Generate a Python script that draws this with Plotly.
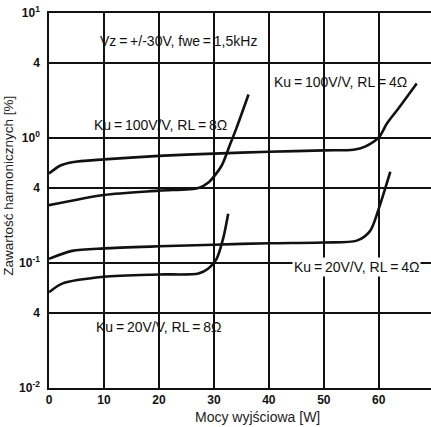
import plotly.graph_objects as go

# Ku=100V/V, RL=4 Ohm
x_a = [0, 2, 4.2, 10, 20, 30, 40, 50, 55.4, 57.5, 60, 61.5, 63.6, 66.9]
y_a = [0.52, 0.60, 0.64, 0.675, 0.72, 0.75, 0.776, 0.796, 0.806, 0.853, 1.01, 1.31, 1.73, 2.73]
# Ku=100V/V, RL=8 Ohm
x_b = [0, 10, 20, 27.2, 29.0, 31.4, 32.9, 34.1, 36.3]
y_b = [0.29, 0.35, 0.379, 0.398, 0.44, 0.60, 0.88, 1.2, 2.23]
# Ku=20V/V, RL=4 Ohm
x_c = [0, 4.2, 10, 20, 30, 40, 50, 56, 58.4, 60, 61.1, 62.1]
y_c = [0.108, 0.125, 0.131, 0.136, 0.14, 0.144, 0.146, 0.151, 0.18, 0.272, 0.386, 0.537]
# Ku=20V/V, RL=8 Ohm
x_d = [0, 2.5, 10, 20, 27.2, 29.0, 30.5, 31.7, 32.6]
y_d = [0.0583, 0.0687, 0.0776, 0.081, 0.0824, 0.0902, 0.108, 0.158, 0.248]

y_tickvals = [0.01, 0.04, 0.1, 0.4, 1, 4, 10]
y_ticktext = ["10<sup>-2</sup>", "4", "10<sup>-1</sup>", "4", "10<sup>0</sup>", "4", "10<sup>1</sup>"]
x_tickvals = [0, 10, 20, 30, 40, 50, 60]

FONT = "Liberation Sans, Arial, Helvetica, sans-serif"
TS = "\u2009"  # thin space around '='

fig = go.Figure()
for xs, ys in [(x_a, y_a), (x_b, y_b), (x_c, y_c), (x_d, y_d)]:
    fig.add_trace(go.Scatter(x=xs, y=ys, mode="lines",
                             line=dict(color="#111", width=2.6, shape="spline", smoothing=0.8),
                             showlegend=False, hoverinfo="skip"))

ann_style = dict(xref="paper", yref="paper", showarrow=False,
                 xanchor="center", yanchor="middle",
                 font=dict(family=FONT, size=14, color="#111"))
eq = TS + "=" + TS
annotations = [
    dict(text=f"Vz{eq}+/-30V, fwe{eq}1,5kHz", x=0.338, y=0.925, **ann_style),
    dict(text=f"Ku{eq}100V/V, RL{eq}4Ω", x=0.764, y=0.816, **ann_style),
    dict(text=f"Ku{eq}100V/V, RL{eq}8Ω", x=0.293, y=0.701, **ann_style),
    dict(text=f"Ku{eq}20V/V, RL{eq}4Ω", x=0.804, y=0.323, bgcolor="white", **ann_style),
    dict(text=f"Ku{eq}20V/V, RL{eq}8Ω", x=0.287, y=0.163, **ann_style),
    dict(text="Mocy wyjściowa [W]", x=0.547, y=-0.077, xref="paper", yref="paper",
         xanchor="center", yanchor="middle",
         showarrow=False, font=dict(family=FONT, size=14, color="#222")),
    dict(text="Zawartość harmonicznych [%]", x=-0.105, y=0.539, xref="paper", yref="paper",
         xanchor="center", yanchor="middle",
         textangle=-90, showarrow=False, font=dict(family=FONT, size=13.5, color="#222")),
]

fig.update_layout(
    width=431, height=427,
    margin=dict(l=49, r=0, t=13, b=39),
    paper_bgcolor="white", plot_bgcolor="white",
    font=dict(family=FONT, color="#111"),
    annotations=annotations,
    xaxis=dict(range=[0, 69.5], tickvals=x_tickvals, showgrid=True, automargin=False,
               gridcolor="#111", gridwidth=1.5, zeroline=False,
               showline=True, mirror=True, linecolor="#111", linewidth=1.5,
               ticks="", tickfont=dict(family=FONT, size=12, color="#111", weight="bold")),
    yaxis=dict(type="log", range=[-2, 1], tickvals=y_tickvals, ticktext=y_ticktext,
               automargin=False,
               showgrid=True, gridcolor="#111", gridwidth=1.5, zeroline=False,
               showline=True, mirror=False, linecolor="#111", linewidth=1.5,
               ticks="", ticklabelstandoff=5,
               tickfont=dict(family=FONT, size=12, color="#111", weight="bold")),
)

fig.write_html("out.html", config={"displayModeBar": False},
               post_script="document.body.style.margin='0px';")
